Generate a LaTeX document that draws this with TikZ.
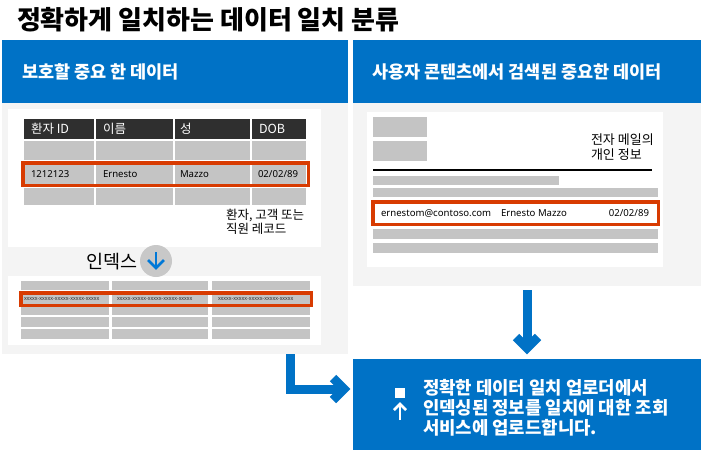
\documentclass[tikz,border=0pt]{standalone}
\usepackage{fontspec}
\setmainfont{Noto Sans CJK KR}
\newfontfamily\latinfont{Noto Sans}
\definecolor{msblue}{HTML}{0072C6}
\definecolor{arrowblue}{HTML}{0078D7}
\definecolor{msred}{HTML}{D83B01}
\definecolor{panelgray}{HTML}{F4F4F4}
\definecolor{cellgray}{HTML}{C4C4C4}
\definecolor{darkhead}{HTML}{2F2F2F}
\definecolor{circgray}{HTML}{C8C8C8}
\newcommand\blk[6]{\node[fill=#6, minimum width={#4pt-#2pt}, minimum height={#5pt-#3pt}] (#1) at ({(#2+#4)/2},{(#3+#5)/2}) {};}
\newcommand\cellrect[5]{\fill[#5] (#1,#2) rectangle (#3,#4);}
\begin{document}
\begin{tikzpicture}[x=1pt,y=-1pt,
  every node/.style={inner sep=0pt, outer sep=0pt},
  hdr/.style={anchor=west, text=white, font=\bfseries\fontsize{17.5}{20}\selectfont},
  thtext/.style={anchor=west, text=white, font=\fontsize{12.5}{15}\selectfont},
  tdtext/.style={anchor=west, text=black, font=\latinfont\fontsize{9.6}{12}\selectfont},
  idxtext/.style={anchor=west, text=black!80, font=\fontsize{5.5}{6}\selectfont},
  note/.style={anchor=north west, align=left, text=black, font=\fontsize{12.5}{14}\selectfont},
  redbox/.style={draw=msred, line width=3.5pt},
  bigline/.style={draw=msblue, line width=9pt, line join=miter},
]
\useasboundingbox[fill=white] (0,0) rectangle (701,450);

% title
\node[anchor=west, font=\bfseries\fontsize{26}{30}\selectfont] (title) at (17,20) {정확하게 일치하는 데이터 일치 분류};

% headers and panels
\blk{lhead}{2}{40}{348}{103}{msblue}
\blk{rhead}{353}{40}{701}{103}{msblue}
\blk{lpanel}{2}{103}{348}{354}{panelgray}
\blk{rpanel}{353}{103}{701}{286}{panelgray}
\node[hdr] (lheadtxt) at (22,72) {보호할 중요 한 데이터};
\node[hdr] (rheadtxt) at (372,72) {사용자 콘텐츠에서 검색된 중요한 데이터};

% left white areas
\blk{lwhite}{8}{109}{321}{247}{white}
\blk{lwhite2}{8}{276}{321}{345}{white}

% record table
\cellrect{24}{119}{94}{139}{darkhead}
\cellrect{96}{119}{173}{139}{darkhead}
\cellrect{175}{119}{250}{139}{darkhead}
\cellrect{252}{119}{306}{139}{darkhead}
\foreach \ya/\yb in {141/160, 162/186, 188/205}{
  \cellrect{24}{\ya}{94}{\yb}{cellgray}
  \cellrect{96}{\ya}{173}{\yb}{cellgray}
  \cellrect{175}{\ya}{250}{\yb}{cellgray}
  \cellrect{252}{\ya}{306}{\yb}{cellgray}
}
\node[thtext] (h1) at (31,129) {환자 ID};
\node[thtext] (h2) at (103,129) {이름};
\node[thtext] (h3) at (180,129) {성};
\node[thtext] (h4) at (259,129) {DOB};
\node[tdtext] (d1) at (31,174) {1212123};
\node[tdtext] (d2) at (103,174) {Ernesto};
\node[tdtext] (d3) at (180,174) {Mazzo};
\node[tdtext] (d4) at (258,174) {02/02/89};
\draw[redbox] (22.75,162.75) rectangle (308.25,185.25);
\node[note] (recnote) at (226,209) {환자, 고객 또는\\직원 레코드};

% index label and circle
\node[anchor=west, font=\fontsize{18.5}{20}\selectfont] (idxlbl) at (86,262) {인덱스};
\node[circle, fill=circgray, minimum size=32pt] (idxcirc) at (156,261) {};
\coordinate (ia) at ([yshift=9pt]idxcirc.center);
\coordinate (ib) at ([yshift=-7pt]idxcirc.center);
\draw[arrowblue, line width=2.5pt] (ia) -- (ib);
\draw[arrowblue, line width=2.5pt, line join=miter] ([shift={(-8,-8)}]ib) -- (ib) -- ([shift={(8,-8)}]ib);

% index table
\foreach \ya/\yb in {281/290, 292/315, 317/327, 329/339}{
  \cellrect{21}{\ya}{109}{\yb}{cellgray}
  \cellrect{112}{\ya}{208}{\yb}{cellgray}
  \cellrect{212}{\ya}{310}{\yb}{cellgray}
}
\draw[redbox] (20.75,292.75) rectangle (311.25,305.25);
\node[idxtext] (ix1) at (24,299) {xxxxx-xxxxx-xxxxx-xxxxx-xxxxx};
\node[idxtext] (ix2) at (117,299) {xxxxx-xxxxx-xxxxx-xxxxx-xxxxx};
\node[idxtext] (ix3) at (218,299) {xxxxx-xxxxx-xxxxx-xxxxx-xxxxx};

% right white email area
\blk{rwhite}{367}{112}{663}{267}{white}
\cellrect{373}{117}{427}{137}{cellgray}
\cellrect{373}{141}{427}{161}{cellgray}
\node[note, font=\fontsize{13}{14.5}\selectfont] (mailnote) at (591,134) {전자 메일의\\개인 정보};
\draw[black, line width=1.2pt] (373,170) -- (652,170);
\cellrect{373}{176}{559}{185}{cellgray}
\cellrect{373}{188}{658}{197}{cellgray}
\draw[redbox, fill=white] (372.75,201.75) rectangle (658.25,224.25);
\node[tdtext, font=\latinfont\fontsize{9.6}{12}\selectfont] (e1) at (381,213) {ernestom@contoso.com};
\node[tdtext, font=\latinfont\fontsize{9.6}{12}\selectfont] (e2) at (501,213) {Ernesto Mazzo};
\node[tdtext, font=\latinfont\fontsize{9.6}{12}\selectfont, anchor=east] (e3) at (649,213) {02/02/89};
\cellrect{373}{229}{658}{239}{cellgray}
\cellrect{373}{243}{658}{253}{cellgray}

% bottom upload box
\blk{upbox}{353}{359}{701}{450}{msblue}
\node[anchor=west, align=left, text=white, font=\bfseries\fontsize{17.8}{20}\selectfont] (uptxt) at (423,408) {정확한 데이터 일치 업로더에서\\인덱싱된 정보를 일치에 대한 조회\\서비스에 업로드합니다.};
\node[fill=white, minimum size=10pt] (sq) at (400,393) {};
\coordinate (ua) at (400,420);
\coordinate (ub) at (400,404);
\draw[white, line width=2.5pt] (ua) -- (ub);
\draw[white, line width=2.5pt, line join=miter] ([shift={(-6,6)}]ub) -- (ub) -- ([shift={(6,6)}]ub);

% big arrows
\coordinate (lx) at (290.5,389);
\coordinate (dx) at (527,0);
\coordinate (la) at (lpanel.south -| lx);
\coordinate (lc) at (upbox.west |- lx);
\coordinate (ltip) at ([xshift=-9pt]lc);
\draw[bigline] (la) -- (lx) -- (ltip);
\draw[bigline] ([shift={(-11,-11)}]ltip) -- (ltip) -- ([shift={(-11,11)}]ltip);

\coordinate (da) at (rpanel.south -| dx);
\coordinate (db) at (upbox.north -| dx);
\coordinate (dtip) at ([yshift=11pt]db);
\draw[bigline] ([yshift=-4pt]da) -- (dtip);
\draw[bigline] ([shift={(-11,-11)}]dtip) -- (dtip) -- ([shift={(11,-11)}]dtip);
\end{tikzpicture}
\end{document}
